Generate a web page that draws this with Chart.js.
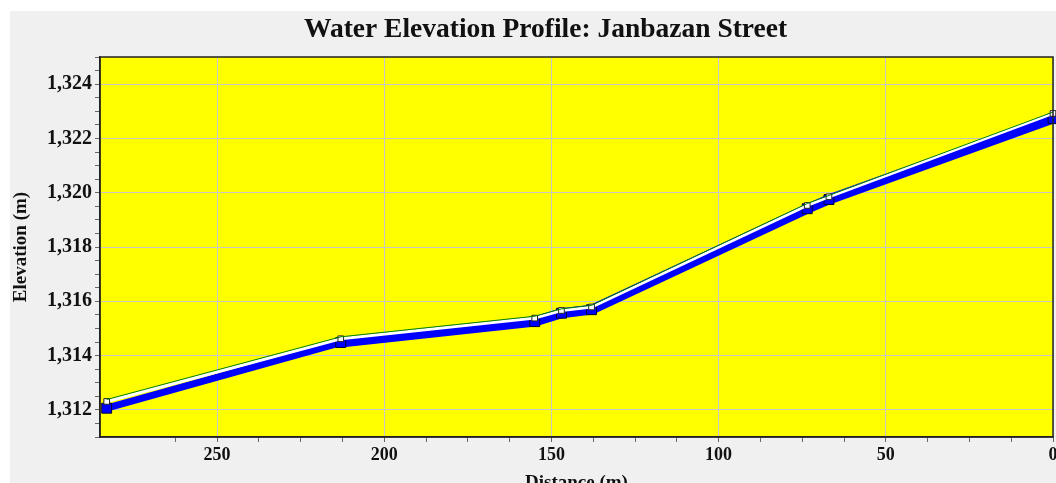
<!DOCTYPE html>
<html>
<head>
<meta charset="utf-8">
<script src="https://cdn.jsdelivr.net/npm/chart.js@4"></script>
<style>
  html, body { margin: 0; padding: 0; background: #fff; overflow: hidden; }
  #wrap { position: absolute; left: 10px; top: 11px; width: 1070px; height: 486px; background: #f0f0f0; }
</style>
</head>
<body>
<div id="wrap"><canvas id="profileChart"></canvas></div>
<script>
// distance along the street (m) and elevations (m)
const distance = [283, 213, 155, 147, 138, 73.5, 67, 0];
const pipeElevation = [1312.06, 1314.48, 1315.25, 1315.56, 1315.69, 1319.41, 1319.75, 1322.73];
const hydraulicGrade = [1312.31, 1314.62, 1315.38, 1315.66, 1315.79, 1319.53, 1319.85, 1322.92];
const groundLine = [1312.38, 1314.69, 1315.45, 1315.72, 1315.85, 1319.6, 1319.9, 1322.97];

const yLabelStep = 2;
const xLabelStep = 50;

const profileChart = document.getElementById('profileChart');

function toPoints(values) {
    return distance.map((d, i) => ({ x: d, y: values[i] }));
}

const plotFrame = {
    id: 'plotFrame',
    afterLayout(chart) {
        // original title is centred on the uncropped picture
        chart.titleBlock.left += 28;
    },
    beforeDraw(chart) {
        const { ctx, chartArea: a } = chart;
        ctx.save();
        ctx.fillStyle = '#ffff00';
        ctx.fillRect(a.left, a.top, a.width, a.height);
        ctx.restore();
    },
    afterDatasetsDraw(chart) {
        const { ctx, chartArea: a } = chart;
        ctx.save();
        ctx.strokeStyle = '#222';
        ctx.lineWidth = 1.5;
        ctx.strokeRect(a.left, a.top, a.width, a.height);
        ctx.restore();
    }
};

const serif = 'Liberation Serif';

new Chart(profileChart, {
    type: 'line',
    data: {
        datasets: [{
            label: 'Ground',
            data: toPoints(groundLine),
            borderColor: '#008000',
            borderWidth: 1,
            pointRadius: 0,
            order: 0,
            clip: false
        }, {
            label: 'Hydraulic Grade',
            data: toPoints(hydraulicGrade),
            borderColor: '#ffffff',
            borderWidth: 3,
            pointStyle: 'rect',
            pointRadius: 4,
            pointBackgroundColor: '#ffffff',
            pointBorderColor: '#222',
            pointBorderWidth: 1,
            order: 1,
            clip: false
        }, {
            label: 'Pipe',
            data: toPoints(pipeElevation),
            borderColor: '#0000ff',
            borderWidth: 9,
            segment: {
                borderWidth: ctx => ctx.p0DataIndex === 0 ? 7 : 10
            },
            pointStyle: 'rect',
            pointRadius: 7,
            pointBackgroundColor: '#0000ff',
            pointBorderColor: '#000033',
            pointBorderWidth: 1,
            order: 2,
            clip: false
        }]
    },
    options: {
        responsive: true,
        maintainAspectRatio: false,
        animation: false,
        layout: { padding: { left: 0, right: 27, top: 0, bottom: 0 } },
        plugins: {
            legend: { display: false },
            tooltip: { enabled: false },
            title: {
                display: true,
                text: 'Water Elevation Profile: Janbazan Street',
                color: '#111',
                font: { family: serif, size: 27.5, weight: 'bold' },
                padding: { top: 2, bottom: 11 }
            }
        },
        scales: {
            x: {
                type: 'linear',
                reverse: true,
                min: 0,
                max: 285,
                afterFit(scale) { scale.height = 60; },
                border: { color: '#222', width: 1.5 },
                grid: {
                    color: ctx => ctx.tick && ctx.tick.value % xLabelStep === 0 ? '#c8c8c8' : 'rgba(0,0,0,0)',
                    tickColor: ctx => ctx.tick && ctx.tick.value % 12.5 === 0 ? '#666' : 'rgba(0,0,0,0)',
                    tickLength: 5,
                    lineWidth: 1
                },
                ticks: {
                    stepSize: 12.5,
                    autoSkip: false,
                    maxRotation: 0,
                    padding: 3,
                    color: '#111',
                    font: { family: serif, size: 18, weight: 'bold' },
                    callback: v => v % xLabelStep === 0 ? v : ''
                },
                title: {
                    display: true,
                    text: 'Distance (m)',
                    color: '#111',
                    font: { family: serif, size: 19, weight: 'bold' },
                    padding: { top: 0, bottom: 3 }
                }
            },
            y: {
                min: 1311,
                max: 1325,
                afterFit(scale) { scale.width = 90; },
                border: { color: '#222', width: 1.5 },
                grid: {
                    color: ctx => ctx.tick && ctx.tick.value % yLabelStep === 0 ? '#c8c8c8' : 'rgba(0,0,0,0)',
                    tickColor: '#666',
                    tickLength: 5,
                    lineWidth: 1
                },
                ticks: {
                    stepSize: 0.5,
                    autoSkip: false,
                    padding: 3,
                    color: '#111',
                    font: { family: serif, size: 20, weight: 'bold' },
                    callback: v => v % yLabelStep === 0 ? v.toLocaleString('en-US') : ''
                },
                title: {
                    display: true,
                    text: 'Elevation (m)',
                    color: '#111',
                    font: { family: serif, size: 19, weight: 'bold' },
                    padding: { top: 0, bottom: 0 }
                }
            }
        }
    },
    plugins: [plotFrame]
});
</script>
</body>
</html>
